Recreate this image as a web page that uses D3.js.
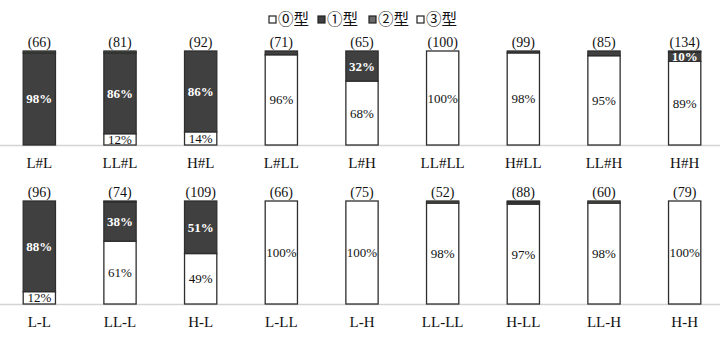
<!DOCTYPE html>
<html>
<head>
<meta charset="utf-8">
<script src="https://cdn.jsdelivr.net/npm/d3@7"></script>
<style>
  html, body { margin: 0; padding: 0; background: #fff; }
  svg { display: block; }
  text { font-family: "Liberation Serif", "Times New Roman", "Noto Sans CJK JP", serif; }
</style>
</head>
<body>
<div id="chart"></div>
<script>
// Type shares (%) for each combination, stacked ⓪ → ① → ② → ③ from the bottom.
const seriesNames = ["⓪型", "①型", "②型", "③型"];
const seriesColors = ["#ffffff", "#404040", "#4f5846", "#ffffff"];

const topCategories = ["L#L", "LL#L", "H#L", "L#LL", "L#H", "LL#LL", "H#LL", "LL#H", "H#H"];
const topCounts = [66, 81, 92, 71, 65, 100, 99, 85, 134];
const topType0 = [0, 12, 14, 96, 68, 100, 98, 95, 89];
const topType1 = [98, 86, 86, 4, 32, 0, 2, 5, 10];
const topType2 = [2, 2, 0, 0, 0, 0, 0, 0, 1];
const topType3 = [0, 0, 0, 0, 0, 0, 0, 0, 0];

const bottomCategories = ["L-L", "LL-L", "H-L", "L-LL", "L-H", "LL-LL", "H-LL", "LL-H", "H-H"];
const bottomCounts = [96, 74, 109, 66, 75, 52, 88, 60, 79];
const bottomType0 = [12, 61, 49, 100, 100, 98, 97, 98, 100];
const bottomType1 = [88, 38, 51, 0, 0, 0, 2, 0, 0];
const bottomType2 = [0, 1, 0, 0, 0, 2, 1, 2, 0];
const bottomType3 = [0, 0, 0, 0, 0, 0, 0, 0, 0];

const W = 720, H = 340;
const svg = d3.select("#chart").append("svg").attr("width", W).attr("height", H);

const x = d3.scaleBand().domain(d3.range(9)).range([-1, 725]).paddingInner(0.6).paddingOuter(0.3);

function panel(categories, counts, types, yTop, yBase, labelY) {
  const g = svg.append("g");
  const y = d3.scaleLinear().domain([0, 100]).range([yBase, yTop]);
  const rows = categories.map((c, i) => {
    const r = { i, cat: c, n: counts[i] };
    types.forEach((t, k) => r["s" + k] = t[i]);
    return r;
  });
  const stack = d3.stack().keys(["s0", "s1", "s2", "s3"])(rows);

  // baseline
  g.append("line").attr("x1", 0).attr("x2", W)
    .attr("y1", yBase + 0.5).attr("y2", yBase + 0.5)
    .attr("stroke", "#d4d4d4").attr("stroke-width", 1.5);

  stack.forEach((layer, k) => {
    layer.forEach((d) => {
      const v = d[1] - d[0];
      if (v <= 0) return;
      const xi = d.data.i;
      g.append("rect")
        .attr("x", x(xi)).attr("width", x.bandwidth())
        .attr("y", y(d[1])).attr("height", y(d[0]) - y(d[1]))
        .attr("fill", seriesColors[k])
        .attr("stroke", "#2e2e2e").attr("stroke-width", 1.3);
      if (v >= 10) {
        g.append("text")
          .attr("x", x(xi) + x.bandwidth() / 2)
          .attr("y", (y(d[0]) + y(d[1])) / 2 + 4.5)
          .attr("text-anchor", "middle")
          .attr("font-size", 13)
          .attr("font-weight", k === 1 ? "bold" : "normal")
          .attr("fill", k === 1 || k === 2 ? "#ffffff" : "#111")
          .text(v + "%");
      }
    });
  });

  rows.forEach((r) => {
    const cx = x(r.i) + x.bandwidth() / 2;
    g.append("text").attr("x", cx).attr("y", yTop - 4)
      .attr("text-anchor", "middle").attr("font-size", 14).attr("fill", "#111")
      .text("(" + r.n + ")");
    g.append("text").attr("x", cx).attr("y", labelY)
      .attr("text-anchor", "middle").attr("font-size", 15).attr("fill", "#111")
      .text(r.cat);
  });
}

panel(topCategories, topCounts, [topType0, topType1, topType2, topType3], 51, 145, 168);
panel(bottomCategories, bottomCounts, [bottomType0, bottomType1, bottomType2, bottomType3], 201, 304, 327);

// legend
const legendX = [269, 318, 369, 417];
const legend = svg.append("g");
seriesNames.forEach((name, k) => {
  legend.append("rect").attr("x", legendX[k]).attr("y", 16).attr("width", 7).attr("height", 7)
    .attr("fill", k === 2 ? "#6a6a6a" : seriesColors[k])
    .attr("stroke", "#222").attr("stroke-width", 1.2);
  legend.append("text").attr("x", legendX[k] + 9).attr("y", 25)
    .attr("font-size", 15.5).attr("fill", "#111")
    .style("font-family", "'Noto Sans CJK JP', sans-serif")
    .text(name);
});
</script>
</body>
</html>
